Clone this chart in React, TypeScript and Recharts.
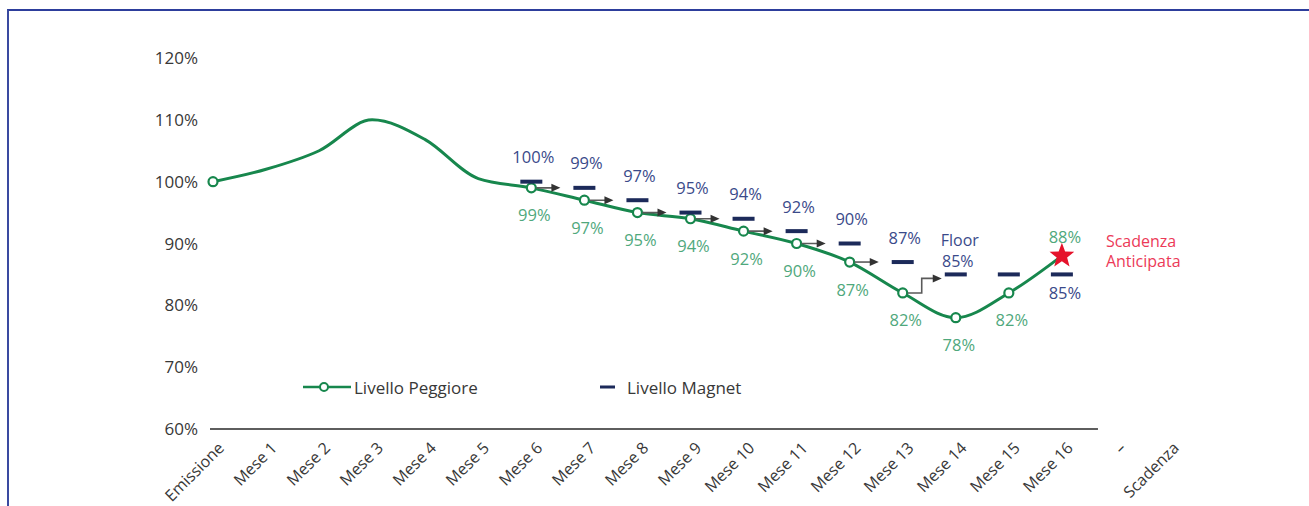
import React from 'react';
import { LineChart, Line, XAxis, YAxis, ReferenceLine, Legend } from 'recharts';

const categories = ['Emissione', 'Mese 1', 'Mese 2', 'Mese 3', 'Mese 4', 'Mese 5', 'Mese 6', 'Mese 7', 'Mese 8', 'Mese 9', 'Mese 10', 'Mese 11', 'Mese 12', 'Mese 13', 'Mese 14', 'Mese 15', 'Mese 16', '–', 'Scadenza'];
const livelloPeggiore = [100, 102, 105, 110, 106.8, 100.5, 99, 97, 95, 94, 92, 90, 87, 82, 78, 82, 88, null, null];
const livelloMagnet = [null, null, null, null, null, null, 100, 99, 97, 95, 94, 92, 90, 87, 85, 85, 85, null, null];
const arrowLevels = [null, null, null, null, null, null, 99, 97, 95, 94, 92, 90, 87, 82, 85, null, null, null, null];
const arrowKinds = ['', '', '', '', '', '', 'h', 'h', 'h', 'h', 'h', 'h', 'h', 'step', '', '', '', '', ''];
const peggioreMarkers = ['circle', '', '', '', '', '', 'circle', 'circle', 'circle', 'circle', 'circle', 'circle', 'circle', 'circle', 'circle', 'circle', 'star', '', ''];
const peggioreLabelPos = ['', '', '', '', '', '', 'below', 'below', 'below', 'below', 'below', 'below', 'below', 'below', 'below', 'below', 'above', '', ''];
const magnetLabelPos = ['', '', '', '', '', '', 'above', 'above', 'above', 'above', 'above', 'above', 'above', 'above', 'floor', '', 'below', '', ''];
const floorText = 'Floor';
const annotationLines = ['Scadenza', 'Anticipata'];
const yTicks = [60, 70, 80, 90, 100, 110, 120];
const legendOrder = ['peggiore', 'magnet'];

const data = categories.map((cat, i) => ({
  cat,
  peggiore: livelloPeggiore[i],
  magnet: livelloMagnet[i],
  arrow: arrowLevels[i],
}));

const FONT = '"Open Sans", "DejaVu Sans", sans-serif';
const GREEN = '#17874d';
const GREEN_LABEL = '#4fa87c';
const NAVY = '#1c2a5a';
const NAVY_LABEL = '#3a4a8a';
const RED = '#e5132b';
const RED_TEXT = '#ec3a58';
const AXIS_TEXT = '#383838';
const LABEL_SIZE = 16.5;
const AXIS_SIZE = 17;

const starPath = (cx: number, cy: number, R: number, r: number) => {
  let d = '';
  for (let k = 0; k < 10; k++) {
    const rad = k % 2 === 0 ? R : r;
    const a = -Math.PI / 2 + (k * Math.PI) / 5;
    d += (k === 0 ? 'M' : 'L') + (cx + rad * Math.cos(a)).toFixed(2) + ',' + (cy + rad * Math.sin(a)).toFixed(2);
  }
  return d + 'Z';
};

const PeggioreDot = (props: any) => {
  const { cx, cy, index } = props;
  const v = livelloPeggiore[index];
  if (cx == null || cy == null || v == null) return <g key={`pd-${index}`} />;
  const marker = peggioreMarkers[index];
  const pos = peggioreLabelPos[index];
  return (
    <g key={`pd-${index}`}>
      {marker === 'circle' && <circle cx={cx} cy={cy} r={4.5} fill="#fff" stroke={GREEN} strokeWidth={2.2} />}
      {marker === 'star' && <path d={starPath(cx, cy, 13, 5.5)} fill={RED} />}
      {marker === 'star' &&
        annotationLines.map((t, k) => (
          <text key={k} x={cx + 44} y={cy - 15 + k * 20} fill={RED_TEXT} fontSize={16} fontFamily={FONT} dominantBaseline="central">
            {t}
          </text>
        ))}
      {pos && (
        <text x={cx + 3} y={pos === 'below' ? cy + 27 : cy - 19} textAnchor="middle" dominantBaseline="central" fill={GREEN_LABEL} fontSize={LABEL_SIZE} fontFamily={FONT}>
          {`${v}%`}
        </text>
      )}
    </g>
  );
};

const MagnetDot = (props: any) => {
  const { cx, cy, index } = props;
  const v = livelloMagnet[index];
  if (cx == null || cy == null || v == null) return <g key={`md-${index}`} />;
  const pos = magnetLabelPos[index];
  const common = { textAnchor: 'middle' as const, dominantBaseline: 'central' as const, fill: NAVY_LABEL, fontSize: LABEL_SIZE, fontFamily: FONT };
  return (
    <g key={`md-${index}`}>
      <rect x={cx - 11} y={cy - 2} width={22} height={4} fill={NAVY} />
      {pos === 'above' && <text x={cx + 2} y={cy - 25} {...common}>{`${v}%`}</text>}
      {pos === 'below' && <text x={cx + 3} y={cy + 18} {...common}>{`${v}%`}</text>}
      {pos === 'floor' && (
        <>
          <text x={cx + 4} y={cy - 34} {...common} fontSize={16}>{floorText}</text>
          <text x={cx + 2} y={cy - 13} {...common} fontSize={16}>{`${v}%`}</text>
        </>
      )}
    </g>
  );
};

const arrowHead = (tx: number, ty: number) => `M${tx},${ty} L${tx - 9},${ty - 4} L${tx - 9},${ty + 4} Z`;

const ArrowDot = (props: any) => {
  const { cx, cy, index, points } = props;
  const kind = arrowKinds[index];
  if (!kind || cx == null || cy == null) return <g key={`ad-${index}`} />;
  const next = points && points[index + 1];
  const nx = next && next.x != null ? next.x : cx + 53;
  if (kind === 'h') {
    const tip = nx - 24;
    return (
      <g key={`ad-${index}`}>
        <line x1={cx + 5} y1={cy} x2={tip - 8} y2={cy} stroke="#5a5a5a" strokeWidth={1.6} />
        <path d={arrowHead(tip, cy)} fill="#333" />
      </g>
    );
  }
  const ny = (next && next.y != null ? next.y : cy - 18) + 4;
  const midx = cx + 19;
  const tip = nx - 14;
  return (
    <g key={`ad-${index}`}>
      <path d={`M${cx + 5},${cy} H${midx} V${ny} H${tip - 8}`} fill="none" stroke="#5a5a5a" strokeWidth={1.6} />
      <path d={arrowHead(tip, ny)} fill="#333" />
    </g>
  );
};

const XTick = (props: any) => {
  const { x, y, payload } = props;
  const ax = x + 4;
  const ay = y + 4;
  return (
    <text x={ax} y={ay} dy="0.71em" transform={`rotate(-45 ${ax} ${ay})`} textAnchor="end" fill={AXIS_TEXT} fontSize={16} fontFamily={FONT}>
      {payload.value}
    </text>
  );
};

const AxisShape = (props: any) => {
  const { x1, y1, x2, y2 } = props;
  if (x1 == null) return <g />;
  const ext = ((x2 - x1) / 16) * 0.68;
  return <line x1={x1 - 3} y1={y1} x2={x2 + ext} y2={y2} stroke="#5e5e5e" strokeWidth={2} />;
};

const renderLegend = (props: any) => {
  const payload = props.payload || [];
  const items = legendOrder
    .map((k) => payload.find((p: any) => p.dataKey === k))
    .filter(Boolean);
  return (
    <div style={{ display: 'flex', alignItems: 'center', fontFamily: FONT, fontSize: AXIS_SIZE, color: AXIS_TEXT, height: 24, whiteSpace: 'nowrap' }}>
      {items.map((item: any) =>
        item.dataKey === 'peggiore' ? (
          <div key="p" style={{ display: 'flex', alignItems: 'center', width: 297 }}>
            <svg width={48} height={12}>
              <line x1={0} y1={6} x2={48} y2={6} stroke={GREEN} strokeWidth={2.5} />
              <circle cx={21} cy={6} r={4} fill="#fff" stroke={GREEN} strokeWidth={2} />
            </svg>
            <span style={{ marginLeft: 3 }}>{item.value}</span>
          </div>
        ) : (
          <div key="m" style={{ display: 'flex', alignItems: 'center' }}>
            <svg width={16} height={12}>
              <rect x={0} y={4.5} width={15} height={3} fill={NAVY} />
            </svg>
            <span style={{ marginLeft: 11 }}>{item.value}</span>
          </div>
        )
      )}
    </div>
  );
};

export default function App() {
  return (
    <div style={{ position: 'absolute', left: 0, top: 0, width: 1309, height: 506, overflow: 'hidden', background: '#fff' }}>
      <div style={{ position: 'absolute', left: 7, top: 9, width: 1400, height: 600, borderTop: '2px solid #2d3e9c', borderLeft: '2px solid #3a4aa0' }} />
      <div style={{ position: 'absolute', left: 0, top: 0 }}>
        <LineChart width={1309} height={506} data={data} margin={{ top: 58, right: 141, bottom: 47, left: 153 }}>
          <XAxis dataKey="cat" interval={0} tick={<XTick />} tickLine={false} axisLine={false} height={30} />
          <YAxis
            domain={[60, 120]}
            ticks={yTicks}
            tickFormatter={(v: number) => `${v}%`}
            width={60}
            axisLine={false}
            tickLine={false}
            tickMargin={9}
            tick={{ fill: AXIS_TEXT, fontSize: AXIS_SIZE, fontFamily: FONT }}
            allowDataOverflow
          />
          <ReferenceLine segment={[{ x: 'Emissione', y: 60 }, { x: 'Mese 16', y: 60 }]} shape={<AxisShape />} />
          <Legend
            layout="horizontal"
            verticalAlign="middle"
            align="center"
            content={renderLegend}
            wrapperStyle={{ position: 'absolute', left: 303, top: 375, width: 500 }}
          />
          <Line
            name="Livello Peggiore"
            dataKey="peggiore"
            type="monotone"
            stroke={GREEN}
            strokeWidth={3}
            dot={PeggioreDot}
            activeDot={false}
            isAnimationActive={false}
            connectNulls={false}
          />
          <Line
            name="Livello Magnet"
            dataKey="magnet"
            stroke="none"
            dot={MagnetDot}
            activeDot={false}
            isAnimationActive={false}
          />
          <Line
            name="arrows"
            dataKey="arrow"
            stroke="none"
            dot={ArrowDot}
            activeDot={false}
            legendType="none"
            isAnimationActive={false}
          />
        </LineChart>
      </div>
    </div>
  );
}
